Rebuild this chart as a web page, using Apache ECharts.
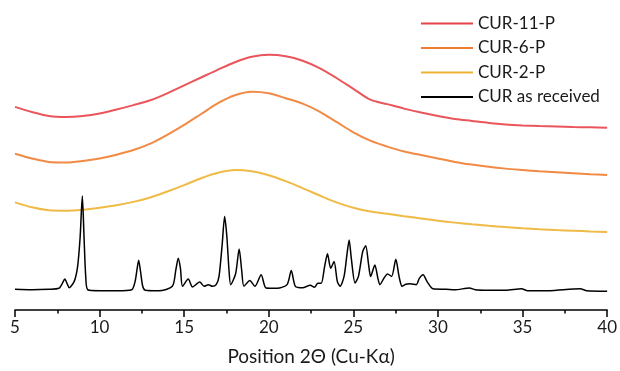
<!DOCTYPE html>
<html>
<head>
<meta charset="utf-8">
<script src="https://cdn.jsdelivr.net/npm/echarts@6/dist/echarts.min.js"></script>
<style>html,body{margin:0;padding:0;background:#fff}#c{width:620px;height:371px}</style>
</head>
<body>
<div id="c"></div>
<script>
// 2θ values and intensities (a.u.)
const seriesNames = ['CUR-11-P', 'CUR-6-P', 'CUR-2-P', 'CUR as received'];

const cur11P = [
  [5,205.7],[6,200.5],[7,196.5],[8,195.5],[9,196.5],[10,199],[11,203],[12,207.5],[13,212.5],
  [14,219.5],[15,227.5],[16,235.5],[17,243.5],[18,251],[19,256.5],[20,258.5],[21,257],[22,252.5],
  [23,245],[24,235],[25,224],[26,213],[27,208.5],[28,204],[29,200],[30,196.5],[31,193.5],[32,191.5],
  [33,189.5],[34,188],[35,187],[36,186.3],[37,185.8],[38,185.3],[39,185],[40,184.7]
];

const cur6P = [
  [5,158.3],[6,153.5],[7,150],[8,149.5],[9,151],[10,153.5],[11,157.3],[12,162],[13,168.5],
  [14,177.5],[15,187.5],[16,198.5],[17,209.5],[18,217.5],[19,221],[20,219.5],[21,214.5],[22,209],
  [23,201],[24,190.5],[25,180],[26,171.5],[27,165.5],[28,160.5],[29,157],[30,153.5],[31,150],
  [32,147.3],[33,145],[34,143.2],[35,141.8],[36,140.5],[37,139.5],[38,138.5],[39,137.5],[40,136.7]
];

const cur2P = [
  [5,109],[6,104],[7,101],[8,100.5],[9,101.5],[10,103.5],[11,106],[12,109.5],[13,114],[14,120],
  [15,126.5],[16,133.5],[17,139],[18,141.8],[19,140.5],[20,136.5],[21,130.5],[22,123.5],[23,116],
  [24,109],[25,103.5],[26,99.8],[27,97.5],[28,95],[29,92.7],[30,90.5],[31,88.5],[32,86.8],[33,85.3],
  [34,84],[35,82.8],[36,81.8],[37,81],[38,80.3],[39,79.6],[40,79]
];

const curReceived = [
  [5.0,21],[6.0,20.5],[7.0,21],[7.6,22],[7.8,27],[7.94,31.3],[8.1,26],[8.2,22.5],[8.5,29],[8.7,44],
  [8.85,74],[8.98,115.5],[9.08,74],[9.18,34],[9.3,20.5],[10.0,19.5],[11.0,19.5],[11.9,20.5],[12.1,29],
  [12.22,42],[12.31,50.5],[12.42,39],[12.55,24],[12.7,20],[13.5,19.5],[14.3,24],[14.51,41],[14.65,52.3],
  [14.78,42],[14.9,24],[15.24,31.3],[15.49,23.3],[15.92,28.3],[16.18,24],[16.43,25.7],[16.67,24],[16.9,26],
  [17.06,34],[17.25,67.3],[17.39,94.7],[17.52,75],[17.65,40],[17.75,25.7],[18.04,36.7],[18.25,61.7],[18.4,40],
  [18.53,24],[18.88,30],[19.18,24],[19.55,35.7],[19.84,22.3],[20.5,22],[21.08,25.7],[21.33,40],[21.57,24],
  [22.0,22.5],[22.45,25],[22.7,23],[22.9,27],[23.1,27],[23.3,44],[23.47,57],[23.66,42.3],[23.86,49],[24.05,29],
  [24.22,24],[24.45,34],[24.62,56],[24.75,71],[24.88,52],[25.1,27.3],[25.3,34],[25.55,59],[25.73,65],[25.9,46],
  [26.02,34],[26.27,45.5],[26.45,32],[26.57,25.7],[26.8,32],[27.02,36.5],[27.26,34],[27.51,51.3],[27.7,34],
  [27.88,24],[28.1,26],[28.33,26.5],[28.72,25.7],[28.9,32],[29.12,35.7],[29.35,29],[29.7,21.5],[30.5,21],
  [31.0,20.5],[31.86,22.3],[32.2,20.5],[33.0,20],[34.0,20],[34.94,21.5],[35.3,19.5],[36.5,19.5],[37.0,20],
  [38.4,21.5],[38.8,19.5],[40.0,19]
];

const xTicks = [5, 10, 15, 20, 25, 30, 35, 40];

const colors = ['#E8434A', '#EE7D30', '#EDB232', '#000000'];
const FONT = 'Lato';

const chart = echarts.init(document.getElementById('c'), null, {renderer: 'canvas'});
chart.setOption({
  animation: false,
  backgroundColor: '#ffffff',
  color: colors,
  grid: {left: 15, right: 10, top: 0, bottom: 57, containLabel: false},
  legend: {
    orient: 'vertical',
    left: 421,
    top: 15,
    padding: 0,
    icon: 'rect',
    itemWidth: 52,
    itemHeight: 2,
    itemGap: 7.5,
    data: seriesNames,
    textStyle: {fontFamily: FONT, fontSize: 17, color: '#1a1a1a'},
  },
  xAxis: {
    type: 'value',
    min: xTicks[0],
    max: xTicks[xTicks.length - 1],
    interval: 5,
    name: 'Position 2\u0398 (Cu-K\u03b1)',
    nameLocation: 'middle',
    nameGap: 37,
    nameTextStyle: {fontFamily: FONT, fontSize: 19, color: '#1a1a1a'},
    axisLine: {show: true, onZero: false, lineStyle: {color: '#000', width: 1.5}},
    axisTick: {show: true, inside: false, length: 7, lineStyle: {color: '#000', width: 1.5}},
    minorTick: {show: true, splitNumber: 2, length: 3.5, lineStyle: {color: '#000', width: 1.5}},
    axisLabel: {fontFamily: FONT, fontSize: 17, color: '#1a1a1a', margin: 9},
    splitLine: {show: false}
  },
  yAxis: {
    type: 'value',
    min: 0,
    max: 314,
    show: false,
    splitLine: {show: false}
  },
  series: [
    {name: seriesNames[0], type: 'line', data: cur11P, smooth: 0.3, showSymbol: false, lineStyle: {width: 2, color: colors[0], opacity: 0.9}},
    {name: seriesNames[1], type: 'line', data: cur6P, smooth: 0.3, showSymbol: false, lineStyle: {width: 2, color: colors[1], opacity: 0.9}},
    {name: seriesNames[2], type: 'line', data: cur2P, smooth: 0.3, showSymbol: false, lineStyle: {width: 2, color: colors[2], opacity: 0.9}},
    {name: seriesNames[3], type: 'line', data: curReceived, smooth: 0.25, showSymbol: false, lineStyle: {width: 1.5, color: colors[3]}}
  ]
});
</script>
</body>
</html>
